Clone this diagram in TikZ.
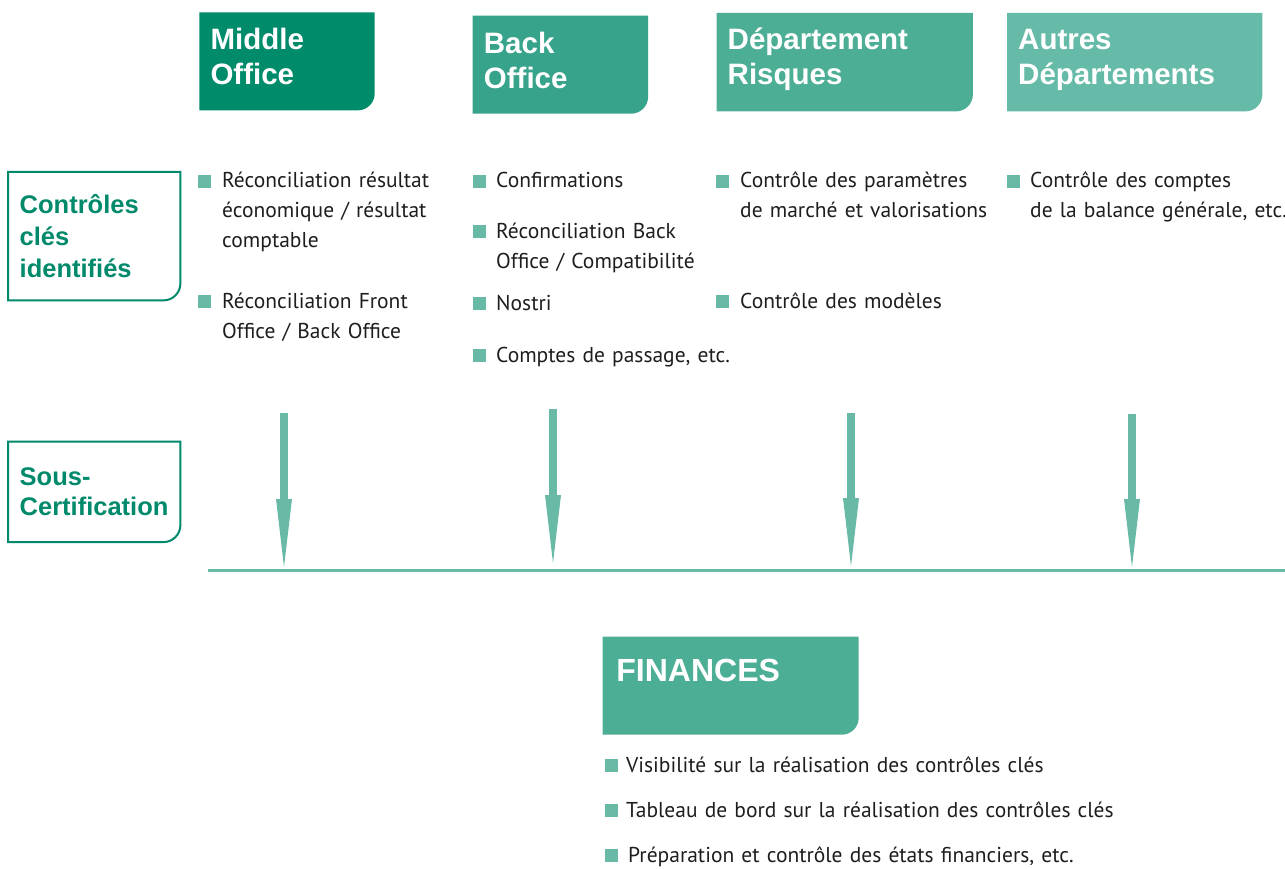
\documentclass[tikz,border=0pt]{standalone}
\usepackage{fontspec}
\setmainfont{PT Sans}
\newfontfamily\titrefont{Liberation Sans}
\usetikzlibrary{backgrounds}

\definecolor{vertMO}{HTML}{008B6B}
\definecolor{vertBO}{HTML}{36A38A}
\definecolor{vertDR}{HTML}{4DAE96}
\definecolor{vertAD}{HTML}{66BBA8}
\definecolor{vertCadre}{HTML}{00896A}
\definecolor{vertPuce}{HTML}{68BAA6}
\definecolor{texte}{HTML}{1E1E1E}

\tikzset{
  entete/.style={anchor=north west, text=white, align=left, inner xsep=11pt, inner ysep=0pt,
    font=\titrefont\bfseries\fontsize{29.5}{35}\selectfont},
  rubrique/.style={anchor=north west, text=vertCadre, align=left, inner xsep=11.5pt, inner ysep=0pt,
    text width=149pt, font=\titrefont\bfseries\fontsize{25.5}{32}\selectfont},
  cadre/.style={draw=vertCadre, line width=2pt},
  item/.style={anchor=base west, align=left, text width=520pt, inner sep=0pt, text=texte,
    font=\fontsize{21.5}{30}\selectfont},
  puce/.style={fill=vertPuce, anchor=south east, minimum size=13pt, inner sep=0pt},
  fleche/.style={draw=vertPuce, line width=8pt},
  tete/.style={fill=vertPuce},
  ligne/.style={draw=vertPuce, line width=3pt}
}

\begin{document}
\begin{tikzpicture}[x=1pt,y=-1pt]
\useasboundingbox (0,0) rectangle (1285,869);

% en-tetes
\node[entete, text width=153pt, text height=37pt, text depth=60.7pt] (mo) at (199.3,12.3) {Middle\\Office};
\node[entete, text width=153pt, text height=37.5pt, text depth=60.1pt] (bo) at (472.7,15.7) {Back\\Office};
\node[entete, text width=234pt, text height=36.5pt, text depth=61.5pt] (dr) at (716.5,13) {Département\\Risques};
\node[entete, text width=233pt, text height=36.5pt, text depth=61.5pt] (ad) at (1007,13) {Autres\\Départements};

% rubriques a gauche
\node[rubrique, text height=41.3pt, text depth=86.7pt] (cles) at (8,172) {Contrôles\\clés\\identifiés};
\node[rubrique, font=\titrefont\bfseries\fontsize{25.5}{30}\selectfont, text height=44pt, text depth=56pt] (sous) at (8,441.7) {Sous-\\Certification};
\foreach \n in {cles,sous}
  \draw[cadre] (\n.north west) -- (\n.north east) -- ([yshift=17pt]\n.south east)
    arc[start angle=0, end angle=-90, radius=17pt] -- (\n.south west) -- cycle;

% controles
\node[item] (mo1) at (222,188) {Réconciliation résultat\\économique / résultat\\comptable};
\node[item] (mo2) at (222,308) {Réconciliation Front\\Office / Back Office};
\node[item] (bo1) at (496,188) {Confirmations};
\node[item] (bo2) at (496,238) {Réconciliation Back\\Office / Compatibilité};
\node[item] (bo3) at (496,310) {Nostri};
\node[item] (bo4) at (496,362) {Comptes de passage, etc.};
\node[item] (dr1) at (740,188) {Contrôle des paramètres\\de marché et valorisations};
\node[item] (dr2) at (740,308) {Contrôle des modèles};
\node[item] (ad1) at (1030,188) {Contrôle des comptes\\de la balance générale, etc.};

% finances
\node[entete, font=\titrefont\bfseries\fontsize{32}{36}\selectfont, inner xsep=13.5pt,
  text width=228.6pt, text height=44.3pt, text depth=53.3pt] (fin) at (602.7,636.7) {FINANCES};
\node[item] (fin1) at (626,772) {Visibilité sur la réalisation des contrôles clés};
\node[item] (fin2) at (626,817) {Tableau de bord sur la réalisation des contrôles clés};
\node[item] (fin3) at (628,862) {Préparation et contrôle des états financiers, etc.};

\foreach \n/\g in {mo1/11,mo2/11,bo1/10,bo2/10,bo3/10,bo4/10,dr1/11,dr2/11,ad1/10,fin1/8,fin2/8,fin3/10}
  \node[puce] (p\n) at ([xshift=-\g pt]\n.base west) {};

\begin{scope}[on background layer]
\foreach \n/\c in {mo/vertMO,bo/vertBO,dr/vertDR,ad/vertAD,fin/vertDR}
  \fill[\c] (\n.north west) -- (\n.north east) -- ([yshift=17pt]\n.south east)
    arc[start angle=0, end angle=-90, radius=17pt] -- (\n.south west) -- cycle;
\end{scope}

% sous-certification
\coordinate (lg) at (208,570.5);
\coordinate (ld) at (1285,570.5);
\draw[ligne] (lg) -- (ld);
\coordinate (s1) at (284,413);  \coordinate (h1) at (284,499);  \coordinate (t1) at (284,567);
\coordinate (s2) at (553,409);  \coordinate (h2) at (553,495);  \coordinate (t2) at (553,563);
\coordinate (s3) at (851,413);  \coordinate (h3) at (851,498);  \coordinate (t3) at (851,566);
\coordinate (s4) at (1132,414); \coordinate (h4) at (1132,499); \coordinate (t4) at (1132,567);
\foreach \i in {1,...,4}{
  \draw[fleche] (s\i) -- (h\i);
  \fill[tete] ([xshift=-8pt]h\i) -- (t\i) -- ([xshift=8pt]h\i) -- cycle;
}
\end{tikzpicture}
\end{document}
